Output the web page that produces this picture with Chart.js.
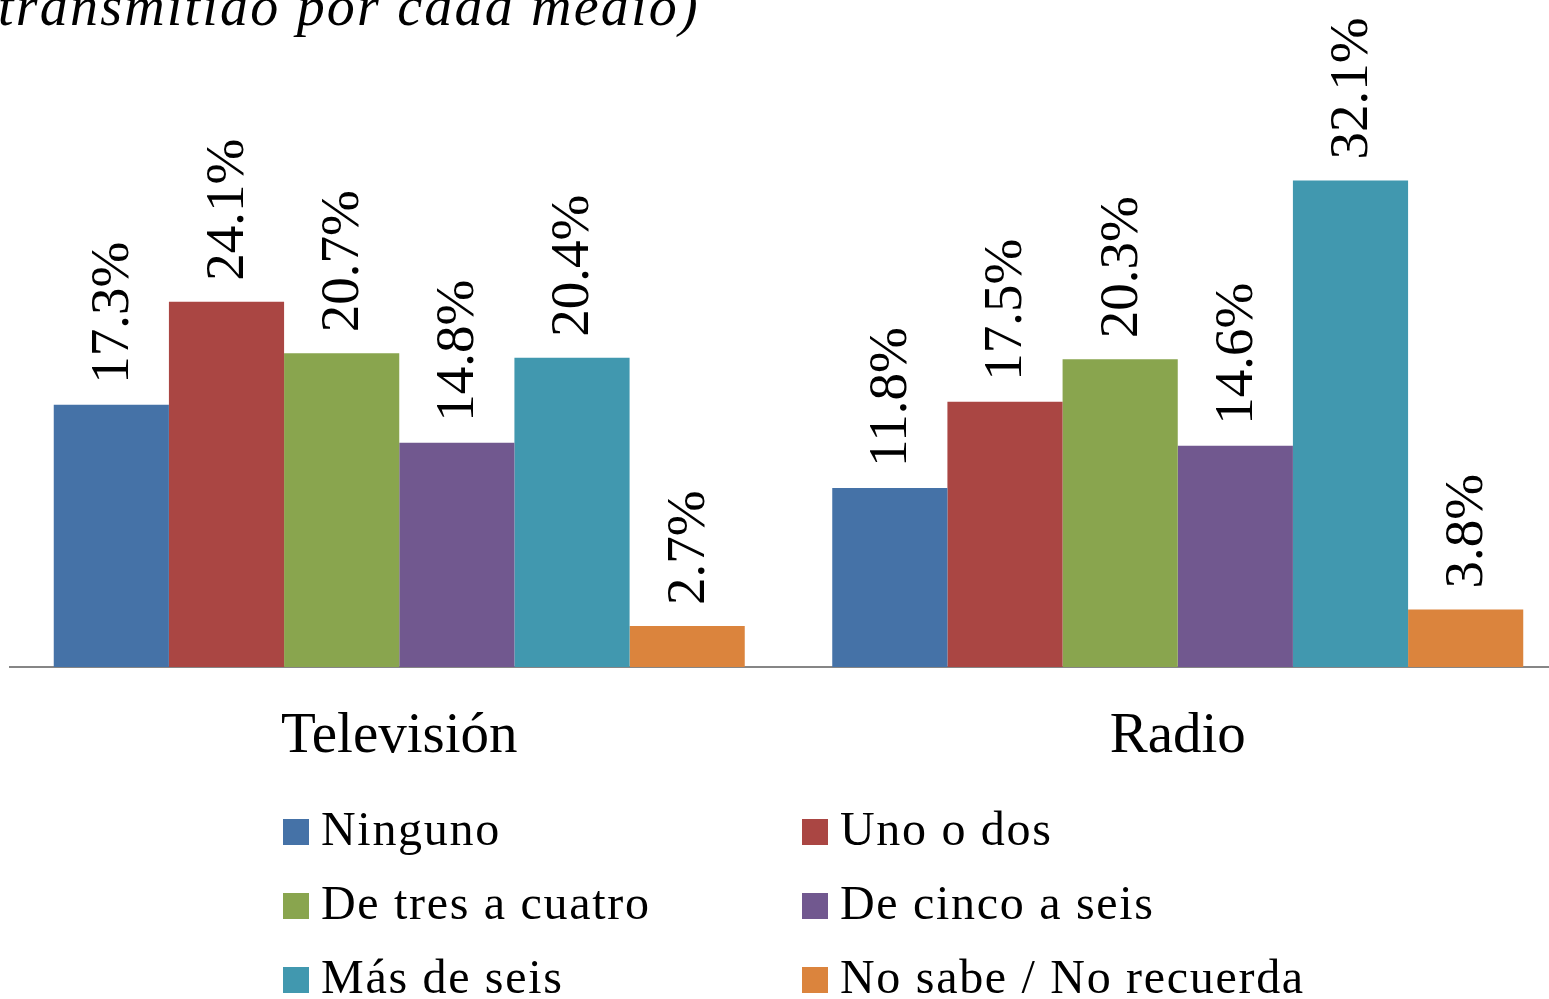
<!DOCTYPE html>
<html>
<head>
<meta charset="utf-8">
<script src="https://cdn.jsdelivr.net/npm/chart.js@4"></script>
<style>
	body { margin: 0; width: 1549px; height: 999px; overflow: hidden; position: relative; background: #fff; }
	canvas { position: absolute; left: 0; top: 0; }
	#title { position: absolute; left: -2px; top: -22px; font: italic 56px "Liberation Serif"; line-height: 56px; letter-spacing: 2.2px; white-space: nowrap; color: #000; }
	.lg-box { position: absolute; width: 26px; height: 26px; }
	.lg-text { position: absolute; font: 48px "Liberation Serif"; line-height: 48px; letter-spacing: 1.7px; white-space: nowrap; color: #000; }
</style>
</head>
<body>
<canvas id="chart" width="1567" height="999"></canvas>
<div id="title">transmitido por cada medio)</div>
<div id="legend"></div>
<script>
	const categories = ['Televisión', 'Radio'];
	const seriesNames = ['Ninguno', 'Uno o dos', 'De tres a cuatro', 'De cinco a seis', 'Más de seis', 'No sabe / No recuerda'];
	const seriesColors = ['#4572A7', '#AA4643', '#89A54E', '#71588F', '#4198AF', '#DB843D'];
	const ninguno = [17.3, 11.8];
	const unoODos = [24.1, 17.5];
	const deTresACuatro = [20.7, 20.3];
	const deCincoASeis = [14.8, 14.6];
	const masDeSeis = [20.4, 32.1];
	const noSabe = [2.7, 3.8];

	const seriesValues = [ninguno, unoODos, deTresACuatro, deCincoASeis, masDeSeis, noSabe];

	// percentage labels, rotated, above each bar
	const barLabels = {
		id: 'barLabels',
		afterDatasetsDraw(chart) {
			const ctx = chart.ctx;
			ctx.save();
			ctx.font = '55px "Liberation Serif"';
			ctx.fillStyle = '#000';
			ctx.textAlign = 'left';
			ctx.textBaseline = 'middle';
			chart.data.datasets.forEach((ds, i) => {
				chart.getDatasetMeta(i).data.forEach((bar, j) => {
					ctx.save();
					ctx.translate(bar.x + 2, bar.y - 21);
					ctx.rotate(-Math.PI / 2);
					ctx.fillText(ds.data[j].toFixed(1) + '%', 0, 0);
					ctx.restore();
				});
			});
			ctx.restore();
		}
	};

	let data = {
		labels: categories,
		datasets: seriesNames.map((name, i) => ({
			label: name,
			data: seriesValues[i],
			backgroundColor: seriesColors[i],
			borderWidth: 0,
			barPercentage: 1,
			categoryPercentage: 0.8876,
		}))
	};

	let options = {
		responsive: false,
		animation: false,
		layout: { padding: { left: 10, right: 0, top: 0, bottom: 0 } },
		plugins: {
			legend: { display: false },
			title: { display: false },
			tooltip: { enabled: false },
		},
		scales: {
			x: {
				grid: { display: false, drawTicks: false },
				border: { display: true, color: '#868686', width: 2 },
				ticks: {
					color: '#000',
					padding: 36,
					font: { family: 'Liberation Serif', size: 57 },
				},
				afterFit(scale) { scale.height = 332; },
			},
			y: {
				display: false,
				min: 0,
				max: 44,
			}
		}
	};

	new Chart(document.getElementById('chart').getContext('2d'), {
		type: 'bar',
		data: data,
		options: options,
		plugins: [barLabels]
	});

	// legend in two columns
	const legend = document.getElementById('legend');
	seriesNames.forEach((name, i) => {
		const col = i % 2, row = Math.floor(i / 2);
		const left = [283, 802][col];
		const top = 819 + row * 74;
		const box = document.createElement('div');
		box.className = 'lg-box';
		box.style.left = left + 'px';
		box.style.top = top + 'px';
		box.style.background = seriesColors[i];
		const text = document.createElement('div');
		text.className = 'lg-text';
		text.style.left = (left + 38) + 'px';
		text.style.top = (top - 14) + 'px';
		text.textContent = name;
		legend.appendChild(box);
		legend.appendChild(text);
	});
</script>
</body>
</html>
